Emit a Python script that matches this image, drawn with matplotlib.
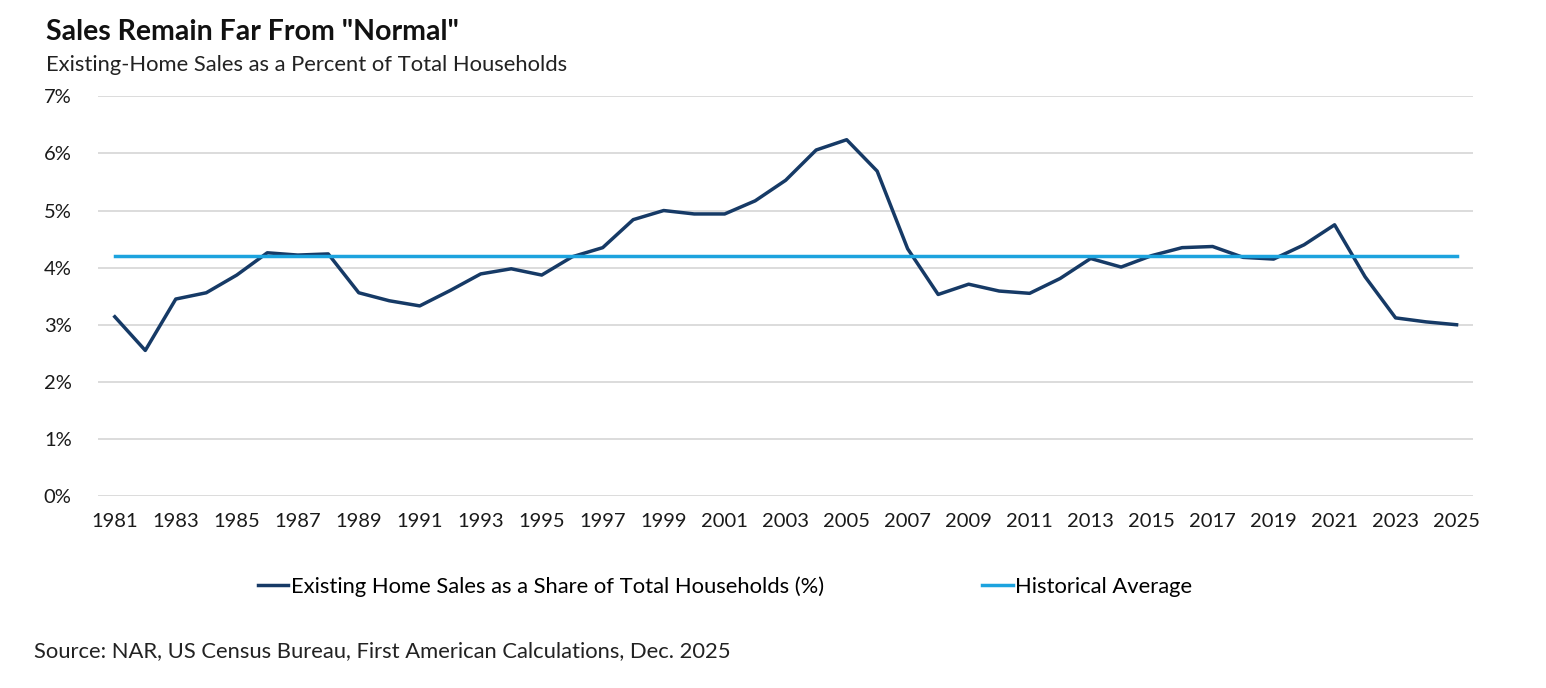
import matplotlib
matplotlib.use("Agg")
import matplotlib.pyplot as plt
from matplotlib.lines import Line2D
from matplotlib.ticker import FuncFormatter

plt.rcParams["font.family"] = ["Lato", "DejaVu Sans"]

years = list(range(1981, 2026))
share = [3.14, 2.55, 3.45, 3.56, 3.87, 4.26, 4.22, 4.24, 3.56, 3.42,
         3.33, 3.60, 3.89, 3.98, 3.87, 4.19, 4.35, 4.84, 5.00, 4.94,
         4.94, 5.17, 5.53, 6.06, 6.24, 5.69, 4.33, 3.53, 3.71, 3.59,
         3.55, 3.81, 4.16, 4.01, 4.21, 4.35, 4.37, 4.18, 4.15, 4.40,
         4.75, 3.84, 3.12, 3.05, 3.00]
hist_avg = [4.21] * len(years)
tick_years = list(range(1981, 2026, 2))

navy = "#163A66"
light = "#1CA3DE"

fig = plt.figure(figsize=(15.46, 6.88), dpi=100)
ax = fig.add_axes([0.0634, 0.279, 0.8896, 0.581])

ax.plot(years, share, color=navy, linewidth=2.5, solid_joinstyle="round")
ax.plot(years, hist_avg, color=light, linewidth=2.5)

ax.set_xlim(1980.45, 2025.55)
ax.set_ylim(0, 7)
ax.set_yticks(range(0, 8))
ax.yaxis.set_major_formatter(FuncFormatter(lambda v, p: f"{v:.0f}%"))
ax.set_xticks(tick_years)
ax.set_xticklabels([str(y) for y in tick_years])
ax.tick_params(axis="both", length=0, labelsize=14.5, colors="#1a1a1a")
ax.tick_params(axis="y", pad=19)
ax.tick_params(axis="x", pad=12)
ax.grid(axis="y", color="#d9d9d9", linewidth=1.3)
ax.set_axisbelow(True)
for s in ax.spines.values():
    s.set_visible(False)

fig.text(0.030, 0.953, 'Sales Remain Far From "Normal"', fontsize=20.5,
         fontweight="bold", va="center", ha="left", color="#111111")
fig.text(0.030, 0.905, "Existing-Home Sales as a Percent of Total Households",
         fontsize=15.8, va="center", ha="left", color="#222222")

handles = [Line2D([], [], color=navy, linewidth=2.5),
           Line2D([], [], color=light, linewidth=2.5)]
fig.legend(handles,
           ["Existing Home Sales as a Share of Total Households (%)",
            "Historical Average"],
           loc="center", bbox_to_anchor=(0.469, 0.147), ncol=2, frameon=False,
           fontsize=15.8, handlelength=1.4, handletextpad=0.12,
           columnspacing=7.2)

fig.text(0.022, 0.053,
         "Source: NAR, US Census Bureau, First American Calculations, Dec. 2025",
         fontsize=15.8, va="center", ha="left", color="#222222")

fig.savefig("out.png", dpi=100)
